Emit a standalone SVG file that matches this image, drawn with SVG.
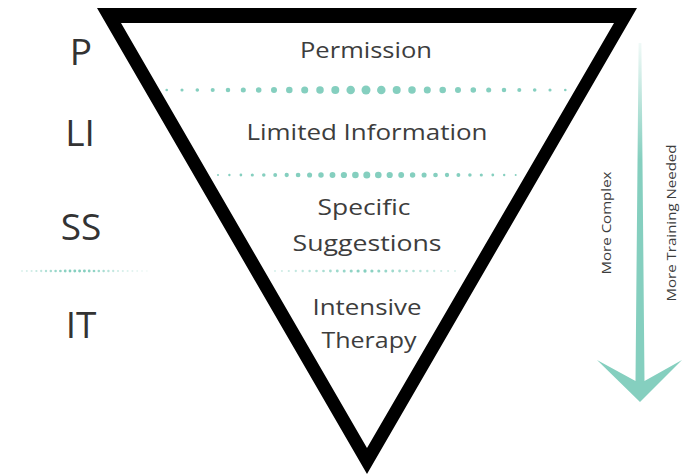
<svg xmlns="http://www.w3.org/2000/svg" width="697" height="476" viewBox="0 0 697 476">
<defs>
<style>
.lvl{font-family:"Open Sans","Noto Sans",sans-serif;font-size:37px;fill:#333;text-anchor:middle}
.lbl{font-family:"Open Sans","Noto Sans",sans-serif;font-size:22px;fill:#3d3d3d;text-anchor:middle}
.side{font-family:"Open Sans","Noto Sans",sans-serif;font-size:12px;fill:#3d3d3d;text-anchor:middle}
.dot{fill:#85cfbf}
</style>
<linearGradient id="ag" gradientUnits="userSpaceOnUse" x1="0" y1="40" x2="0" y2="160">
<stop offset="0" stop-color="#85cfbf" stop-opacity="0.1"/>
<stop offset="1" stop-color="#85cfbf" stop-opacity="1"/>
</linearGradient>
</defs>
<rect width="697" height="476" fill="#fff"/>
<g id="triangle">
<path d="M97 8 L637 8 L367 474 Z M121 23 L367 448 L614 23 Z" fill="#000" fill-rule="evenodd"/>
</g>
<g id="connectors">
<g id="divider1">
<circle class="dot" cx="166.7" cy="90" r="1.3"/><circle class="dot" cx="182" cy="90" r="1.55"/><circle class="dot" cx="197.3" cy="90" r="1.8"/><circle class="dot" cx="212.7" cy="90" r="2.04"/><circle class="dot" cx="228" cy="90" r="2.28"/><circle class="dot" cx="243.3" cy="90" r="2.53"/><circle class="dot" cx="258.7" cy="90" r="2.78"/><circle class="dot" cx="274" cy="90" r="3.02"/><circle class="dot" cx="289.3" cy="90" r="3.27"/><circle class="dot" cx="304.7" cy="90" r="3.52"/><circle class="dot" cx="320" cy="90" r="3.76"/><circle class="dot" cx="335.3" cy="90" r="4.0"/><circle class="dot" cx="350.7" cy="90" r="4.25"/><circle class="dot" cx="366" cy="90" r="4.5"/><circle class="dot" cx="381.3" cy="90" r="4.25"/><circle class="dot" cx="396.7" cy="90" r="4.0"/><circle class="dot" cx="412" cy="90" r="3.76"/><circle class="dot" cx="427.3" cy="90" r="3.52"/><circle class="dot" cx="442.7" cy="90" r="3.27"/><circle class="dot" cx="458" cy="90" r="3.02"/><circle class="dot" cx="473.3" cy="90" r="2.78"/><circle class="dot" cx="488.7" cy="90" r="2.53"/><circle class="dot" cx="504" cy="90" r="2.28"/><circle class="dot" cx="519.3" cy="90" r="2.04"/><circle class="dot" cx="534.7" cy="90" r="1.8"/><circle class="dot" cx="550" cy="90" r="1.55"/><circle class="dot" cx="565.3" cy="90" r="1.3"/>
</g>
<g id="divider2">
<circle class="dot" cx="218" cy="175" r="1"/><circle class="dot" cx="229.4" cy="175" r="1.19"/><circle class="dot" cx="240.9" cy="175" r="1.38"/><circle class="dot" cx="252.3" cy="175" r="1.58"/><circle class="dot" cx="263.8" cy="175" r="1.77"/><circle class="dot" cx="275.2" cy="175" r="1.96"/><circle class="dot" cx="286.7" cy="175" r="2.15"/><circle class="dot" cx="298.1" cy="175" r="2.35"/><circle class="dot" cx="309.6" cy="175" r="2.54"/><circle class="dot" cx="321" cy="175" r="2.73"/><circle class="dot" cx="332.5" cy="175" r="2.92"/><circle class="dot" cx="343.9" cy="175" r="3.12"/><circle class="dot" cx="355.4" cy="175" r="3.31"/><circle class="dot" cx="366.8" cy="175" r="3.5"/><circle class="dot" cx="378.3" cy="175" r="3.31"/><circle class="dot" cx="389.7" cy="175" r="3.12"/><circle class="dot" cx="401.2" cy="175" r="2.92"/><circle class="dot" cx="412.6" cy="175" r="2.73"/><circle class="dot" cx="424.1" cy="175" r="2.54"/><circle class="dot" cx="435.5" cy="175" r="2.35"/><circle class="dot" cx="447" cy="175" r="2.15"/><circle class="dot" cx="458.4" cy="175" r="1.96"/><circle class="dot" cx="469.9" cy="175" r="1.77"/><circle class="dot" cx="481.3" cy="175" r="1.58"/><circle class="dot" cx="492.8" cy="175" r="1.38"/><circle class="dot" cx="504.2" cy="175" r="1.19"/><circle class="dot" cx="515.7" cy="175" r="1"/>
</g>
<g id="divider3">
<circle class="dot" cx="275" cy="271" r="1" opacity="0.35"/><circle class="dot" cx="281.9" cy="271" r="1.05" opacity="0.4"/><circle class="dot" cx="288.8" cy="271" r="1.1" opacity="0.45"/><circle class="dot" cx="295.8" cy="271" r="1.15" opacity="0.5"/><circle class="dot" cx="302.7" cy="271" r="1.2" opacity="0.55"/><circle class="dot" cx="309.6" cy="271" r="1.25" opacity="0.6"/><circle class="dot" cx="316.5" cy="271" r="1.3" opacity="0.65"/><circle class="dot" cx="323.5" cy="271" r="1.35" opacity="0.7"/><circle class="dot" cx="330.4" cy="271" r="1.4" opacity="0.75"/><circle class="dot" cx="337.3" cy="271" r="1.45" opacity="0.8"/><circle class="dot" cx="344.2" cy="271" r="1.5" opacity="0.85"/><circle class="dot" cx="351.2" cy="271" r="1.55" opacity="0.9"/><circle class="dot" cx="358.1" cy="271" r="1.6" opacity="0.95"/><circle class="dot" cx="365" cy="271" r="1.65"/><circle class="dot" cx="371.9" cy="271" r="1.6" opacity="0.95"/><circle class="dot" cx="378.8" cy="271" r="1.55" opacity="0.9"/><circle class="dot" cx="385.8" cy="271" r="1.5" opacity="0.85"/><circle class="dot" cx="392.7" cy="271" r="1.45" opacity="0.8"/><circle class="dot" cx="399.6" cy="271" r="1.4" opacity="0.75"/><circle class="dot" cx="406.5" cy="271" r="1.35" opacity="0.7"/><circle class="dot" cx="413.5" cy="271" r="1.3" opacity="0.65"/><circle class="dot" cx="420.4" cy="271" r="1.25" opacity="0.6"/><circle class="dot" cx="427.3" cy="271" r="1.2" opacity="0.55"/><circle class="dot" cx="434.2" cy="271" r="1.15" opacity="0.5"/><circle class="dot" cx="441.2" cy="271" r="1.1" opacity="0.45"/><circle class="dot" cx="448.1" cy="271" r="1.05" opacity="0.4"/><circle class="dot" cx="455" cy="271" r="1" opacity="0.35"/>
</g>
<g id="divider-left">
<circle class="dot" cx="22" cy="271" r="1" opacity="0.3"/><circle class="dot" cx="26.8" cy="271" r="1" opacity="0.35"/><circle class="dot" cx="31.6" cy="271" r="1.05" opacity="0.4"/><circle class="dot" cx="36.4" cy="271" r="1.1" opacity="0.5"/><circle class="dot" cx="41.2" cy="271" r="1.15" opacity="0.55"/><circle class="dot" cx="46" cy="271" r="1.2" opacity="0.65"/><circle class="dot" cx="50.8" cy="271" r="1.25" opacity="0.75"/><circle class="dot" cx="55.6" cy="271" r="1.3" opacity="0.85"/><circle class="dot" cx="60.4" cy="271" r="1.35" opacity="0.9"/><circle class="dot" cx="65.2" cy="271" r="1.4" opacity="0.95"/><circle class="dot" cx="70" cy="271" r="1.4"/><circle class="dot" cx="74.8" cy="271" r="1.45"/><circle class="dot" cx="79.6" cy="271" r="1.45"/><circle class="dot" cx="84.4" cy="271" r="1.45"/><circle class="dot" cx="89.2" cy="271" r="1.4" opacity="0.95"/><circle class="dot" cx="94" cy="271" r="1.35" opacity="0.9"/><circle class="dot" cx="98.8" cy="271" r="1.3" opacity="0.8"/><circle class="dot" cx="103.6" cy="271" r="1.25" opacity="0.7"/><circle class="dot" cx="108.4" cy="271" r="1.2" opacity="0.6"/><circle class="dot" cx="113.2" cy="271" r="1.15" opacity="0.5"/><circle class="dot" cx="118" cy="271" r="1.1" opacity="0.42"/><circle class="dot" cx="122.8" cy="271" r="1.05" opacity="0.35"/><circle class="dot" cx="127.6" cy="271" r="1" opacity="0.3"/><circle class="dot" cx="132.4" cy="271" r="1" opacity="0.25"/><circle class="dot" cx="137.2" cy="271" r="1" opacity="0.2"/><circle class="dot" cx="142" cy="271" r="1" opacity="0.15"/><circle class="dot" cx="146.8" cy="271" r="1" opacity="0.1"/>
</g>
<g id="arrow">
<path d="M638.6 43 L641.4 43 L644.5 381 L682 360 L640 402 L597 360 L635.5 381 Z" fill="url(#ag)"/>
</g>
</g>
<g id="level-P"><text class="lvl" x="81" y="65">P</text></g>
<g id="level-LI"><text class="lvl" x="80" y="146">LI</text></g>
<g id="level-SS"><text class="lvl" x="81" y="240">SS</text></g>
<g id="level-IT"><text class="lvl" x="81" y="338">IT</text></g>
<g id="node-permission"><text class="lbl" x="366" y="58" textLength="132" lengthAdjust="spacingAndGlyphs">Permission</text></g>
<g id="node-limited"><text class="lbl" x="367" y="140" textLength="241" lengthAdjust="spacingAndGlyphs">Limited Information</text></g>
<g id="node-specific"><text class="lbl" x="364" y="215" textLength="93" lengthAdjust="spacingAndGlyphs">Specific</text><text class="lbl" x="367" y="251" textLength="149" lengthAdjust="spacingAndGlyphs">Suggestions</text></g>
<g id="node-intensive"><text class="lbl" x="367" y="315" textLength="109" lengthAdjust="spacingAndGlyphs">Intensive</text><text class="lbl" x="369" y="348" textLength="95" lengthAdjust="spacingAndGlyphs">Therapy</text></g>
<g id="label-complex"><text class="side" transform="translate(611 223) rotate(-90)" textLength="103" lengthAdjust="spacingAndGlyphs">More Complex</text></g>
<g id="label-training"><text class="side" transform="translate(676 223) rotate(-90)" textLength="157" lengthAdjust="spacingAndGlyphs">More Training Needed</text></g>
</svg>
